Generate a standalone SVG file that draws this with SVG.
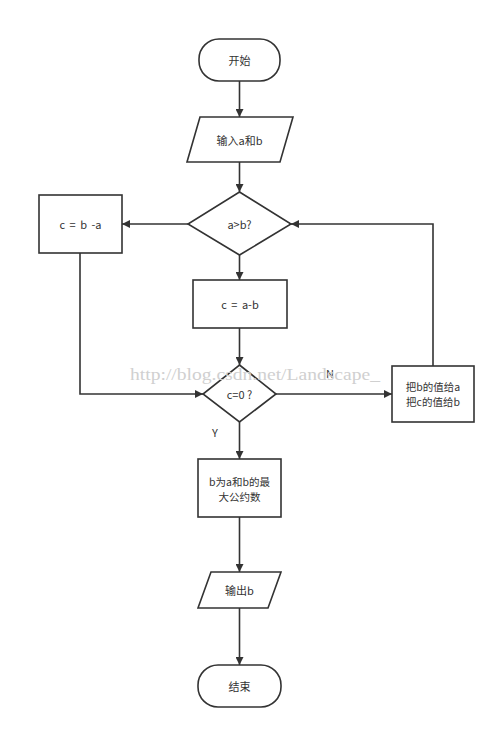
<svg xmlns="http://www.w3.org/2000/svg" width="500" height="733" viewBox="0 0 500 733">
<defs>
<marker id="arr" viewBox="0 0 10 10" refX="10" refY="5" markerWidth="8" markerHeight="8" markerUnits="userSpaceOnUse" orient="auto">
<path d="M0,0 L10,5 L0,10 z" fill="#333"/>
</marker>
<style>
.s{fill:#fff;stroke:#333;stroke-width:1.6}
.t{font-family:"Noto Sans CJK SC","Noto Sans",sans-serif;font-size:11px;fill:#333;text-anchor:middle;dominant-baseline:central}
.m{font-size:10.5px}
.c{fill:none;stroke:#333;stroke-width:1.6;marker-end:url(#arr)}
.w{font-family:"Liberation Serif",serif;font-size:16px;fill:#d0d0d0}
</style>
</defs>
<rect width="500" height="733" fill="#fff"/>
<g id="connectors">
<path class="c" d="M239.5,81 L239.5,117"/>
<path class="c" d="M239.5,162 L239.5,192"/>
<path class="c" d="M188,224 L122,224"/>
<path class="c" d="M239.5,255 L239.5,280"/>
<path class="c" d="M239.5,328 L239.5,365"/>
<path class="c" d="M80,253 L80,394 L203,394"/>
<path class="c" d="M276,394 L392,394"/>
<path class="c" d="M433,366 L433,224 L291,224"/>
<path class="c" d="M239.5,422 L239.5,459"/>
<path class="c" d="M239.5,517 L239.5,572"/>
<path class="c" d="M239.5,608 L239.5,665"/>
<text class="t" x="330" y="373">N</text>
<text class="t" x="215" y="432">Y</text>
</g>
<g id="start"><rect class="s" x="199" y="39" width="81" height="42" rx="20"/><text class="t" x="239.5" y="60">开始</text></g>
<g id="input"><polygon class="s" points="200,117 293,117 280,162 187,162"/><text class="t" x="239.5" y="140">输入a和b</text></g>
<g id="cmp"><polygon class="s" points="239.5,192 291,224 239.5,255 188,224"/><text class="t" x="239.5" y="224">a&gt;b?</text></g>
<g id="cba"><rect class="s" x="39" y="195" width="83" height="58"/><text class="t" x="80.5" y="224" xml:space="preserve" word-spacing="2">c = b -a</text></g>
<g id="cab"><rect class="s" x="193" y="280" width="94" height="48"/><text class="t" x="240" y="304" word-spacing="2">c = a-b</text></g>
<g id="check"><polygon class="s" points="239.5,365 276,394 239.5,422 203,394"/><text class="t" x="239.5" y="394">c=0 ?</text></g>
<g id="swap"><rect class="s" x="392" y="366" width="82" height="56"/><text class="t m" x="433" y="386.5">把b的值给a</text><text class="t m" x="433" y="401.5">把c的值给b</text></g>
<g id="result"><rect class="s" x="198" y="459" width="83" height="58"/><text class="t m" x="239.5" y="481.5">b为a和b的最</text><text class="t m" x="239.5" y="496">大公约数</text></g>
<g id="output"><polygon class="s" points="211,572 281,572 268,608 198,608"/><text class="t" x="239.5" y="590">输出b</text></g>
<g id="end"><rect class="s" x="198" y="665" width="83" height="42" rx="20"/><text class="t" x="239.5" y="686">结束</text></g>
<text class="w" x="130" y="380" textLength="250" lengthAdjust="spacingAndGlyphs">http://blog.csdn.net/Landscape_</text>
</svg>
